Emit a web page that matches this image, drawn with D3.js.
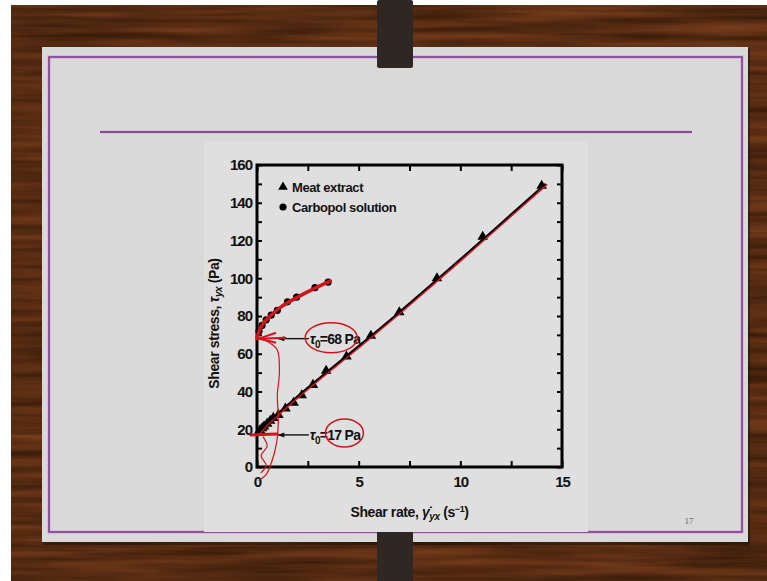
<!DOCTYPE html>
<html>
<head>
<meta charset="utf-8">
<script src="https://cdn.jsdelivr.net/npm/d3@7"></script>
<style>
  body { margin: 0; background: #fff; }
  svg { display: block; }
  .tick text { font-family: 'Liberation Sans Narrow', 'Liberation Sans', Arial, sans-serif; font-weight: bold; letter-spacing: -1px; }
</style>
</head>
<body>
<svg id="chart" width="767" height="581"></svg>
<script>
// data
const meatExtract = [[0.05, 18], [0.15, 19.5], [0.25, 20.5], [0.35, 21.5], [0.5, 23], [0.65, 24.5],
  [0.8, 26], [1.05, 27.6], [1.4, 31], [1.8, 34], [2.2, 38], [2.75, 43.5], [3.4, 51], [4.4, 58.5],
  [5.6, 69.5], [7.0, 82], [8.85, 100], [11.1, 122], [14.0, 149]]
const meatFit = [[0, 17], [0.5, 23], [1, 28], [2, 37.5], [3, 46.5], [5, 64], [7, 82], [10, 110], [14.2, 150]]
const carbopol = [[0.1, 72], [0.25, 75], [0.45, 78], [0.7, 80.5], [1.0, 83], [1.5, 87.5],
  [1.95, 90], [2.85, 95], [3.5, 98]]
const carbopolFit = [[0, 68], [0.1, 72], [0.3, 76], [0.7, 80.5], [1.2, 85], [2, 90], [2.8, 94.5], [3.6, 98.5]]
const xTicks = [0, 2.5, 5, 7.5, 10, 12.5, 15]
const xLabels = [0, 5, 10, 15]
const yTicks = [0, 10, 20, 30, 40, 50, 60, 70, 80, 90, 100, 110, 120, 130, 140, 150, 160]
const yLabels = [0, 20, 40, 60, 80, 100, 120, 140, 160]
const yieldStress = [68, 17]
// hand-drawn red pen marks (data units)
const penLoop = [[0.1, 68], [0.6, 66], [1.0, 62], [1.1, 50], [1.0, 38], [1.05, 25], [0.95, 12], [0.7, 2], [0.45, -4], [0.1, -7]]
const penLoop2 = [[0.3, 16], [0.5, 11], [0.2, 6], [0.45, 1], [0.2, -3]]

const svg = d3.select('#chart')
const W = 767
const H = 581

// wood background
const defs = svg.append('defs')
const wood = defs.append('filter').attr('id', 'wood').attr('x', 0).attr('y', 0).attr('width', 1).attr('height', 1)
  .attr('color-interpolation-filters', 'sRGB')
wood.append('feTurbulence').attr('type', 'fractalNoise').attr('baseFrequency', '0.006 0.12').attr('numOctaves', 3).attr('seed', 4)
wood.append('feColorMatrix').attr('type', 'matrix')
  .attr('values', '0.34 0 0 0 0.17  0.18 0 0 0 0.08  0.1 0 0 0 0.02  0 0 0 0 1')
wood.append('feComposite').attr('in2', 'SourceGraphic').attr('operator', 'in')

svg.append('rect').attr('width', W).attr('height', H).attr('fill', '#fff')
svg.append('rect').attr('x', 11).attr('y', 5).attr('width', W - 11).attr('height', H - 5).attr('fill', '#4a2816')
svg.append('rect').attr('x', 11).attr('y', 5).attr('width', W - 11).attr('height', H - 5)
  .attr('fill', '#000').attr('filter', 'url(#wood)')

// slide
svg.append('rect').attr('x', 43).attr('y', 49).attr('width', 707).attr('height', 496).attr('fill', '#1a0e06').attr('opacity', 0.5)
svg.append('rect').attr('x', 42).attr('y', 47).attr('width', 706).attr('height', 495).attr('fill', '#d9d9d9')
svg.append('rect').attr('x', 49).attr('y', 57).attr('width', 693).attr('height', 475)
  .attr('fill', 'none').attr('stroke', '#e3a9e8').attr('stroke-width', 3.5)
svg.append('rect').attr('x', 49).attr('y', 57).attr('width', 693).attr('height', 475)
  .attr('fill', 'none').attr('stroke', '#6b3f78').attr('stroke-width', 1.5)
svg.append('line').attr('x1', 100).attr('x2', 692).attr('y1', 132).attr('y2', 132)
  .attr('stroke', '#e3a9e8').attr('stroke-width', 3)
svg.append('line').attr('x1', 100).attr('x2', 692).attr('y1', 132).attr('y2', 132)
  .attr('stroke', '#5e3468').attr('stroke-width', 1.3)
svg.append('text').attr('x', 689).attr('y', 524).attr('text-anchor', 'middle')
  .style('font-family', 'Liberation Serif, serif').style('font-size', '9px').attr('fill', '#666').text('17')

// figure backdrop
svg.append('rect').attr('x', 204).attr('y', 142).attr('width', 384).attr('height', 390).attr('fill', '#dfdfdf')

// pole
svg.append('rect').attr('x', 377).attr('y', 0).attr('width', 36).attr('height', 68).attr('rx', 2).attr('fill', '#2e2723')
svg.append('rect').attr('x', 377).attr('y', 532).attr('width', 36).attr('height', 49).attr('fill', '#2e2723')

// scales
const x = d3.scaleLinear().domain([0, 15]).range([257, 562])
const y = d3.scaleLinear().domain([0, 160]).range([467, 165])

const fontNarrow = "'Liberation Sans Narrow', 'Liberation Sans', Arial, sans-serif"

function styleAxis (g) {
  g.select('.domain').remove()
  g.selectAll('.tick line').attr('stroke', '#000').attr('stroke-width', 2)
  g.selectAll('.tick text').attr('fill', '#111').style('font-size', '15px')
}

svg.append('g').attr('transform', 'translate(0,' + y(0) + ')')
  .call(d3.axisBottom(x).tickValues(xTicks).tickSize(-6).tickPadding(9)
    .tickFormat(d => xLabels.includes(d) ? d : ''))
  .call(styleAxis)
svg.append('g').attr('transform', 'translate(0,' + y(160) + ')')
  .call(d3.axisTop(x).tickValues(xTicks).tickSize(-6).tickFormat(''))
  .call(styleAxis)
svg.append('g').attr('transform', 'translate(' + x(0) + ',0)')
  .call(d3.axisLeft(y).tickValues(yTicks).tickSize(-5).tickPadding(5)
    .tickFormat(d => yLabels.includes(d) ? d : ''))
  .call(styleAxis)
svg.append('g').attr('transform', 'translate(' + x(15) + ',0)')
  .call(d3.axisRight(y).tickValues(yTicks).tickSize(-5).tickFormat(''))
  .call(styleAxis)

svg.append('rect').attr('x', x(0)).attr('y', y(160)).attr('width', x(15) - x(0)).attr('height', y(0) - y(160))
  .attr('fill', 'none').attr('stroke', '#000').attr('stroke-width', 3)

// axis titles
const yt = svg.append('text').attr('transform', 'translate(219,' + y(76) + ') rotate(-90)')
  .attr('text-anchor', 'middle').style('font-family', fontNarrow).style('font-weight', 'bold')
  .style('font-size', '14px').style('letter-spacing', '-0.4px').attr('fill', '#111')
yt.append('tspan').text('Shear stress, ')
yt.append('tspan').style('font-style', 'italic').text('τ')
yt.append('tspan').style('font-style', 'italic').style('font-size', '10px').attr('dy', 3).text('yx')
yt.append('tspan').attr('dy', -3).text(' (Pa)')

const xt = svg.append('text').attr('x', x(7.5)).attr('y', 517)
  .attr('text-anchor', 'middle').style('font-family', fontNarrow).style('font-weight', 'bold')
  .style('font-size', '14px').style('letter-spacing', '-0.4px').attr('fill', '#111')
xt.append('tspan').text('Shear rate, ')
xt.append('tspan').style('font-style', 'italic').text('γ̇')
xt.append('tspan').style('font-style', 'italic').style('font-size', '10px').attr('dy', 3).text('yx')
xt.append('tspan').attr('dy', -3).text(' (s')
xt.append('tspan').style('font-size', '9px').attr('dy', -5).text('−1')
xt.append('tspan').attr('dy', 5).text(')')

// legend
const lg = svg.append('g').style('font-family', fontNarrow).style('font-weight', 'bold').style('font-size', '13px').style('letter-spacing', '-0.4px')
lg.append('path').attr('d', d3.symbol(d3.symbolTriangle, 40)()).attr('transform', 'translate(283,187)').attr('fill', '#000')
lg.append('text').attr('x', 292).attr('y', 192).attr('fill', '#111').text('Meat extract')
lg.append('circle').attr('cx', 283).attr('cy', 207).attr('r', 3.6).attr('fill', '#000')
lg.append('text').attr('x', 292).attr('y', 212).attr('fill', '#111').text('Carbopol solution')

const line = d3.line().x(d => x(d[0])).y(d => y(d[1]))
const smooth = d3.line().x(d => x(d[0])).y(d => y(d[1])).curve(d3.curveCatmullRom)

// fitted lines
svg.append('path').datum(meatFit).attr('d', smooth).attr('fill', 'none').attr('stroke', '#000').attr('stroke-width', 2.2)
svg.append('path').datum(carbopolFit).attr('d', smooth).attr('fill', 'none').attr('stroke', '#000').attr('stroke-width', 2)

// points
svg.append('g').selectAll('path').data(meatExtract).enter().append('path')
  .attr('d', d3.symbol(d3.symbolTriangle, 48)())
  .attr('transform', d => 'translate(' + x(d[0]) + ',' + y(d[1]) + ')')
  .attr('fill', '#000')
svg.append('g').selectAll('circle').data(carbopol).enter().append('circle')
  .attr('cx', d => x(d[0])).attr('cy', d => y(d[1])).attr('r', 3.6).attr('fill', '#000')

// yield stress annotations
const ann = svg.append('g').style('font-family', fontNarrow).style('font-size', '14px').style('font-weight', 'bold')
  .style('letter-spacing', '-0.7px').attr('fill', '#111')
yieldStress.forEach(function (t) {
  const ay = y(t)
  ann.append('line').attr('x1', x(1.05)).attr('x2', x(2.55)).attr('y1', ay).attr('y2', ay).attr('stroke', '#111').attr('stroke-width', 1.4)
  ann.append('path').attr('d', 'M' + x(1.0) + ',' + ay + 'l7,-2.5v5z').attr('fill', '#111')
  const tx = ann.append('text').attr('x', x(2.6)).attr('y', ay + 5)
  tx.append('tspan').style('font-style', 'italic').text('τ')
  tx.append('tspan').style('font-size', '10px').attr('dy', 4).text('0')
  tx.append('tspan').attr('dy', -4).text('=' + t + ' Pa')
})

// red pen
const pen = svg.append('g').attr('fill', 'none').attr('stroke', '#d0141c').attr('stroke-linecap', 'round').attr('stroke-linejoin', 'round')
pen.append('path').datum(meatFit).attr('d', line).attr('stroke-width', 1.4).attr('transform', 'translate(1,1)')
pen.append('path').datum(carbopolFit).attr('d', smooth).attr('stroke-width', 3.5)
pen.append('path').datum(penLoop).attr('d', smooth).attr('stroke-width', 1.2)
pen.append('path').datum(penLoop2).attr('d', smooth).attr('stroke-width', 1.2)
pen.append('path').datum([[-0.3, 17], [1.0, 17.5]]).attr('d', line).attr('stroke-width', 3)
pen.append('path').datum([[0.1, 68], [0.9, 66]]).attr('d', line).attr('stroke-width', 2)
pen.append('path').datum([[0.1, 68], [0.9, 71]]).attr('d', line).attr('stroke-width', 2)
pen.append('path').datum([[0.1, 68], [1.4, 68.5]]).attr('d', line).attr('stroke-width', 2)
pen.append('ellipse').attr('cx', x(3.65)).attr('cy', y(68.5)).attr('rx', 26).attr('ry', 15).attr('stroke-width', 1.5)
pen.append('ellipse').attr('cx', x(4.3)).attr('cy', y(18)).attr('rx', 19).attr('ry', 14).attr('stroke-width', 1.5)
</script>
</body>
</html>
